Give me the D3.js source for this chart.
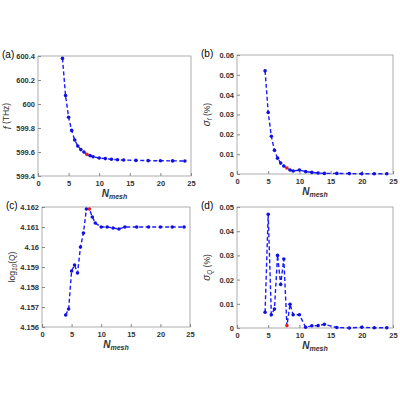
<!DOCTYPE html>
<html><head><meta charset="utf-8">
<script src="https://cdn.jsdelivr.net/npm/d3@7"></script>
<style>body{margin:0;background:#fff}text{font-family:"Liberation Sans",Arial,sans-serif}</style>
</head><body><svg id="c" width="400" height="400"></svg>
<script>
const xA = [4,4.5,5,5.5,6,6.5,7,7.5,8,8.5,9,10,11,12,13,14,16,18,20,22,24];
const fVals = [600.38,600.07,599.89,599.78,599.70,599.65,599.62,599.60,599.58,599.57,599.56,599.55,599.545,599.54,599.535,599.533,599.53,599.528,599.527,599.526,599.525];
const xB = [4.5,5,5.5,6,6.5,7,7.5,8,8.5,9,10,11,12,13,14,16,18,20,22,24];
const sigF = [0.052,0.031,0.019,0.012,0.008,0.0055,0.004,0.003,0.002,0.0015,0.002,0.0012,0.0008,0.0005,0.0003,0.0003,0.0002,0.0001,0.0001,0.0001];
const logQ = [4.1566,4.1569,4.1588,4.1591,4.1587,4.1600,4.1607,4.1619,4.1619,4.1615,4.1612,4.1610,4.1610,4.16095,4.1609,4.1610,4.1610,4.1610,4.1610,4.1610,4.1610];
const sigQ = [0.0065,0.047,0.0055,0.0078,0.030,0.018,0.0285,0.001,0.0098,0.0055,0.0055,0.0003,0.0009,0.001,0.0015,0.0002,0,0.0003,0.0001,0.0001];
const xTicks = [0,5,10,15,20,25];

const panels = [
  {tag:"(a)", x:xA, y:fVals, box:[38,56,191,176], dom:[599.4,600.4], ticks:[599.4,599.6,599.8,600,600.2,600.4], fmt:d=>String(+d.toFixed(1)), yl:[["i","f"],["n"," (THz)"]]},
  {tag:"(b)", x:xB, y:sigF, box:[237,55,393,174], dom:[0,0.06], ticks:[0,0.01,0.02,0.03,0.04,0.05,0.06], fmt:d=>d===0?"0":d.toFixed(2), yl:[["i","σ"],["sub","f"],["n"," (%)"]]},
  {tag:"(c)", x:xA, y:logQ, box:[42,207,190,327], dom:[4.156,4.162], ticks:[4.156,4.157,4.158,4.159,4.16,4.161,4.162], fmt:d=>String(+d.toFixed(3)), yl:[["n","log"],["sub","10"],["n","(Q)"]]},
  {tag:"(d)", x:xB, y:sigQ, box:[237,207,393,328], dom:[0,0.05], ticks:[0,0.01,0.02,0.03,0.04,0.05], fmt:d=>d===0?"0":d.toFixed(2), yl:[["i","σ"],["sub","Q"],["n"," (%)"]]}
];

const svg = d3.select("#c");
panels.forEach(p => {
  const [l,t,r,b] = p.box;
  const x = d3.scaleLinear().domain([0,25]).range([l,r]);
  const y = d3.scaleLinear().domain(p.dom).range([b,t]);
  const g = svg.append("g");
  g.append("rect").attr("x",l).attr("y",t).attr("width",r-l).attr("height",b-t)
    .attr("fill","none").attr("stroke","#999").attr("stroke-width",0.8);
  const xa = g.append("g").attr("transform",`translate(0,${b})`)
    .call(d3.axisBottom(x).tickValues(xTicks).tickSize(-3).tickFormat(d3.format("d")))
    .call(a=>a.select(".domain").remove());
  xa.selectAll("text").attr("dy","0.95em");
  g.append("g").attr("transform",`translate(${l},0)`)
    .call(d3.axisLeft(y).tickValues(p.ticks).tickSize(-3).tickFormat(p.fmt))
    .call(a=>a.select(".domain").remove());
  g.selectAll(".tick line").attr("stroke","#888");
  g.selectAll(".tick text").attr("font-size",7.5).attr("font-weight","bold").attr("fill","#333");
  const line = d3.line().x((d,i)=>x(p.x[i])).y(d=>y(d));
  g.append("path").datum(p.y).attr("d",line).attr("fill","none")
    .attr("stroke","#1a1aff").attr("stroke-width",1.4).attr("stroke-dasharray","4,2.5");
  g.selectAll("circle").data(p.y).join("circle")
    .attr("cx",(d,i)=>x(p.x[i])).attr("cy",d=>y(d)).attr("r",1.8)
    .attr("fill",(d,i)=>p.x[i]===8?"#e02020":"#1010e0");
  g.append("text").attr("x",l-36).attr("y",t+2).attr("font-size",10).text(p.tag);
  const xl = g.append("text").attr("x",(l+r)/2).attr("y",b+21).attr("text-anchor","middle")
    .attr("font-size",10).attr("font-weight","bold").attr("fill","#333");
  xl.append("tspan").attr("font-style","italic").text("N");
  xl.append("tspan").attr("font-size",7).attr("font-style","italic").attr("dy",2).text("mesh");
  const yl = g.append("text").attr("transform",`translate(${l-27},${(t+b)/2}) rotate(-90)`)
    .attr("text-anchor","middle").attr("font-size",8.5).attr("fill","#333");
  p.yl.forEach(([k,s])=>{
    const ts = yl.append("tspan").text(s);
    if(k==="i") ts.attr("font-style","italic").attr("font-size",10);
    if(k==="sub") ts.attr("font-size",6.5).attr("font-style","italic").attr("dy",2);
    if(k==="n" && yl.selectAll("tspan").size()>1) ts.attr("dy",-2);
  });
});
</script></body></html>
